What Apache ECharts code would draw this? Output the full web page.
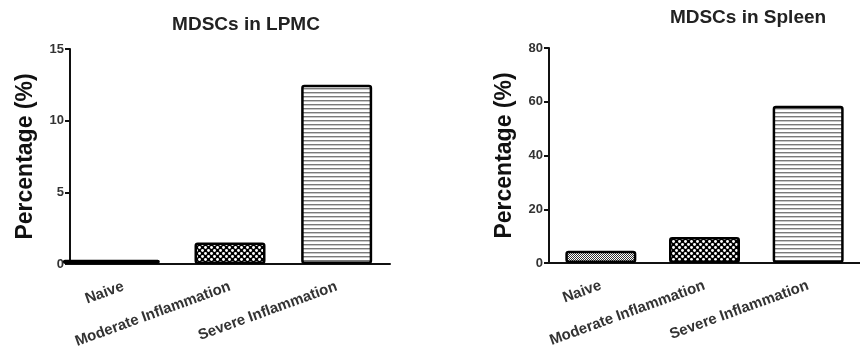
<!DOCTYPE html>
<html><head><meta charset="utf-8">
<script src="https://cdn.jsdelivr.net/npm/echarts@6/dist/echarts.min.js"></script>
<style>html,body{margin:0;padding:0;background:#fff}#c{width:860px;height:358px}</style>
</head><body><div id="c"></div>
<script>
const categories = ['Naive', 'Moderate Inflammation', 'Severe Inflammation'];
const lpmcValues = [0.3, 1.5, 12.5];
const spleenValues = [4.6, 9.7, 58.5];
const lpmcTicks = {min: 0, max: 15, interval: 5};
const spleenTicks = {min: 0, max: 80, interval: 20};
const titles = ['MDSCs in LPMC', 'MDSCs in Spleen'];
const yName = 'Percentage (%)';

function pattern(kind) {
  const c = document.createElement('canvas');
  let ctx;
  if (kind === 'fine') {
    c.width = 2; c.height = 2; ctx = c.getContext('2d');
    ctx.fillStyle = '#fff'; ctx.fillRect(0,0,2,2);
    ctx.fillStyle = '#333'; ctx.fillRect(0,0,1,1); ctx.fillRect(1,1,1,1);
  } else if (kind === 'check') {
    c.width = 6; c.height = 6; ctx = c.getContext('2d');
    ctx.fillStyle = '#000'; ctx.fillRect(0,0,6,6);
    ctx.fillStyle = '#fff';
    ctx.beginPath(); ctx.arc(1.5,1.5,1.45,0,Math.PI*2); ctx.fill();
    ctx.beginPath(); ctx.arc(4.5,4.5,1.45,0,Math.PI*2); ctx.fill();
  } else {
    c.width = 4; c.height = 4; ctx = c.getContext('2d');
    ctx.fillStyle = '#fff'; ctx.fillRect(0,0,4,4);
    ctx.fillStyle = '#7a7a7a'; ctx.fillRect(0,0,4,1);
    ctx.fillStyle = '#c8c8c8'; ctx.fillRect(0,1,4,1);
  }
  return {image: c, repeat: 'repeat'};
}
const fills = [pattern('fine'), pattern('check'), pattern('stripe')];

const font = '"Liberation Sans", Arial, sans-serif';
function xAx(gi, show) {
  return {
    type: 'category', gridIndex: gi, data: categories, show: show,
    axisLine: {lineStyle: {color: '#111', width: 2}},
    axisTick: {alignWithLabel: true, length: 6, lineStyle: {color: '#111', width: 2}},
    axisLabel: {rotate: 20, margin: 22, interval: 0, fontFamily: font, fontWeight: 'bold', fontSize: 15, color: '#333'}
  };
}
function yAx(gi, t, show) {
  return {
    type: 'value', gridIndex: gi, min: t.min, max: t.max, interval: t.interval, show: show,
    name: yName, nameLocation: 'middle', nameGap: 33,
    nameTextStyle: {fontFamily: font, fontWeight: 'bold', fontSize: 23, color: '#111'},
    splitLine: {show: false},
    axisLine: {show: true, lineStyle: {color: '#111', width: 2}},
    axisTick: {show: true, length: 5, lineStyle: {color: '#111', width: 2}},
    axisLabel: {fontFamily: font, fontWeight: 'bold', fontSize: 13, color: '#333', margin: 6}
  };
}
function dataFor(vals, idxs) {
  return vals.map((v, i) => idxs.includes(i) ? {value: v, itemStyle: {color: fills[i]}} : null);
}
const barStyle = {borderColor: '#000', borderWidth: 2.5, borderRadius: 2};
const titleStyle = {fontFamily: font, fontWeight: 'bold', fontSize: 19, color: '#222'};

const chart = echarts.init(document.getElementById('c'), null, {renderer: 'canvas'});
chart.setOption({
  animation: false,
  title: [
    {text: titles[0], left: 241, top: 10, textAlign: 'center', textStyle: titleStyle},
    {text: titles[1], left: 743, top: 3, textAlign: 'center', textStyle: titleStyle}
  ],
  grid: [
    {left: 70, top: 49, width: 320, height: 215},
    {left: 58, top: 49, width: 320, height: 215},
    {left: 549, top: 48, width: 317, height: 215}
  ],
  xAxis: [xAx(0, true), xAx(1, false), xAx(2, true)],
  yAxis: [yAx(0, lpmcTicks, true), yAx(1, lpmcTicks, false), yAx(2, spleenTicks, true)],
  series: [
    {type: 'bar', xAxisIndex: 0, yAxisIndex: 0, barWidth: 71, itemStyle: barStyle, data: dataFor(lpmcValues, [1, 2])},
    {type: 'bar', xAxisIndex: 1, yAxisIndex: 1, barWidth: 97, itemStyle: barStyle, data: dataFor(lpmcValues, [0]), z: 3},
    {type: 'bar', xAxisIndex: 2, yAxisIndex: 2, barWidth: 71, itemStyle: barStyle, data: dataFor(spleenValues, [0, 1, 2])}
  ]
});
</script></body></html>
